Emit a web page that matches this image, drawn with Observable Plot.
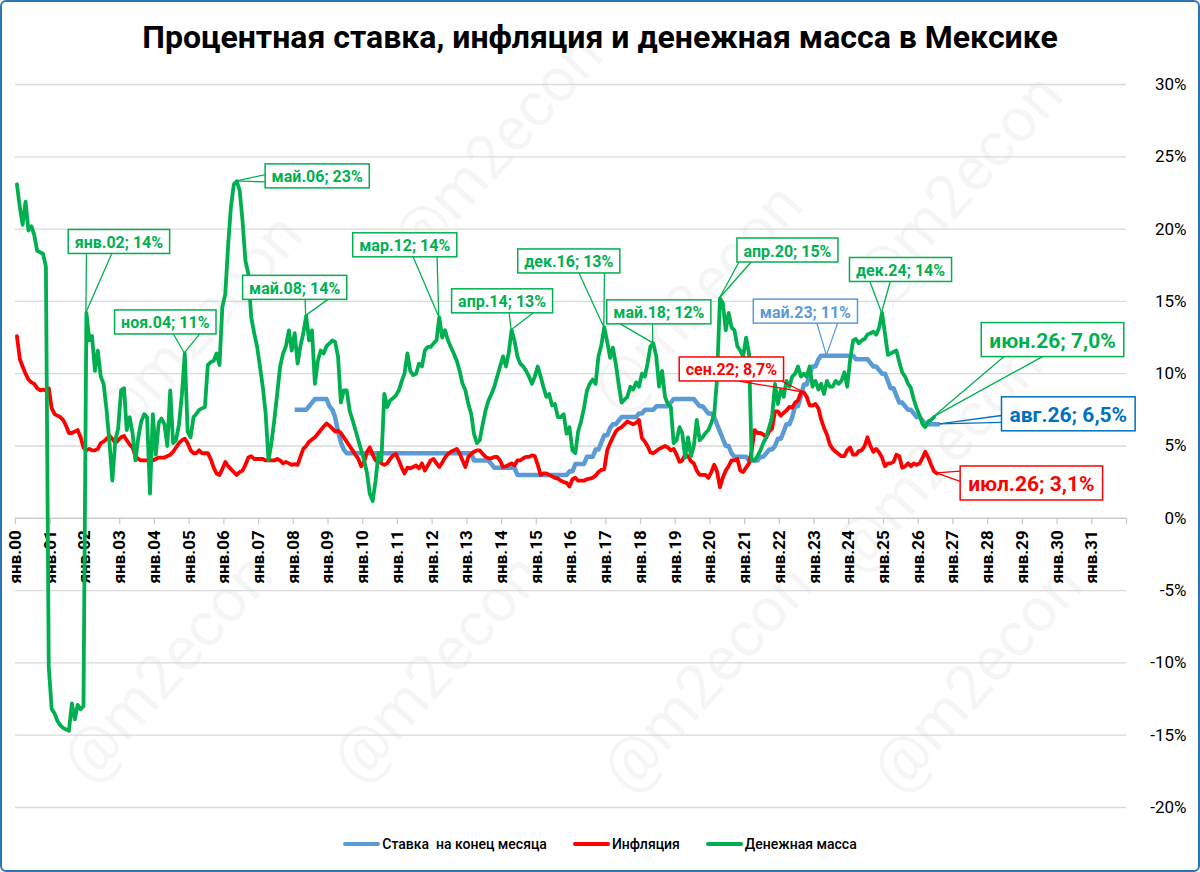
<!DOCTYPE html>
<html>
<head>
<meta charset="utf-8">
<script src="https://cdn.jsdelivr.net/npm/d3@7"></script>
<script src="https://cdn.jsdelivr.net/npm/@observablehq/plot@0.6"></script>
<style>
  html, body { margin: 0; padding: 0; background: #fff; }
  #frame { position: relative; width: 1200px; height: 872px; overflow: hidden; background: #fff; font-family: Roboto, "Noto Sans", sans-serif; }
  #chart { position: absolute; left: 0; top: 0; }
  #title { position: absolute; left: 0; right: 0; top: 17px; text-align: center; font-weight: 700; font-size: 28px; color: #000; white-space: nowrap; line-height: 40px; }
  #title span { display: inline-block; }
  #legend { position: absolute; left: 0; right: 0; top: 836px; display: flex; justify-content: center; align-items: center; font-size: 14px; font-weight: 500; color: #000; padding-left: 0px; }
  .item { display: flex; align-items: center; margin: 0 13px; }
  .sw { width: 37px; height: 4px; border-radius: 2px; margin-right: 2px; }
  #border { position: absolute; inset: 0; border: 2px solid #2E75B6; border-radius: 6px; box-sizing: border-box; pointer-events: none; }
</style>
</head>
<body>
<div id="frame">
  <div id="chart"></div>
  <div id="title"><span id="titleText">Процентная ставка, инфляция и денежная масса в Мексике</span></div>
  <div id="legend"></div>
  <div id="border"></div>
</div>
<script>
// ---------------- DATA (monthly, % y/y) ----------------
// Денежная масса: Jan 2000 – Jun 2026
const moneyStart = [2000, 0];
const moneySupply = [
  23.1, 21.5, 20.3, 21.9, 19.9, 20.2, 19.6, 18.5, 18.4, 18.3, 17.4, -10.3,
  -13.2, -13.5, -14.0, -14.3, -14.5, -14.6, -14.7, -12.8, -13.9, -12.9, -13.2, -13.0,
  14.2, 12.3, 12.6, 10.2, 11.6, 9.8, 9.3, 7.5, 5.2, 2.6, 5.4, 6.2,
  8.85, 9.0, 6.1, 7.0, 5.9, 4.0, 5.6, 6.7, 7.2, 7.0, 1.7, 7.2,
  4.4, 6.6, 6.9, 6.5, 5.0, 8.85, 5.2, 5.4, 6.5, 8.5, 11.4, 6.0,
  5.6, 7.0, 7.2, 7.5, 7.6, 7.7, 10.6, 10.8, 10.9, 11.4, 10.6, 14.6,
  15.5, 19.0, 21.5, 23.1, 23.3, 22.7, 20.6, 17.8, 16.9, 13.9, 12.8, 11.9,
  10.5, 9.0, 7.3, 4.0, 5.2, 6.8, 8.6, 10.5, 11.4, 11.9, 13.0, 11.6,
  12.8, 10.7, 11.9, 12.8, 14.0, 12.3, 13.0, 9.3, 10.9, 11.6, 11.4, 11.9,
  12.1, 12.3, 12.2, 11.2, 8.0, 8.85, 8.85, 7.45, 6.8, 6.1, 5.4, 4.7,
  4.0, 3.1, 1.7, 1.2, 2.6, 4.5, 4.0, 8.6, 7.7, 8.15, 8.3, 8.5,
  8.85, 9.5, 10.0, 11.4, 10.2, 9.9, 10.0, 10.7, 10.5, 11.6, 11.85, 11.85,
  12.1, 12.3, 13.9, 12.5, 13.0, 12.3, 11.85, 11.4, 10.9, 10.2, 9.3, 8.85,
  7.9, 7.2, 5.85, 5.2, 5.4, 6.5, 7.45, 8.15, 8.6, 9.1, 9.8, 10.5,
  11.2, 10.5, 11.4, 13.0, 12.3, 11.2, 10.7, 10.5, 10.2, 9.8, 9.3, 9.8,
  10.5, 9.8, 9.1, 8.4, 8.6, 7.8, 7.9, 7.0, 7.0, 7.2, 5.85, 6.3,
  4.7, 4.5, 6.0, 6.7, 7.6, 8.8, 9.3, 9.6, 9.3, 11.2, 12.0, 13.2,
  12.2, 11.1, 11.8, 10.7, 9.3, 8.0, 8.2, 8.4, 9.1, 8.9, 9.4, 9.1,
  10.0, 9.8, 10.7, 11.9, 12.1, 11.2, 9.1, 10.2, 8.4, 7.9, 7.7, 5.2,
  5.4, 6.3, 5.9, 4.2, 5.6, 4.3, 5.0, 6.8, 5.4, 5.6, 5.9, 6.1,
  6.6, 7.2, 9.6, 15.2, 14.9, 13.0, 14.2, 13.2, 13.0, 11.9, 11.6, 11.2,
  12.5, 11.4, 4.0, 4.0, 4.3, 4.7, 5.2, 5.6, 6.3, 7.0, 9.3, 7.9,
  8.9, 8.4, 9.5, 9.1, 9.8, 10.0, 10.5, 9.8, 10.0, 9.8, 10.5, 9.1,
  9.5, 8.9, 9.3, 8.6, 9.5, 9.1, 9.1, 9.5, 9.3, 9.5, 10.1, 9.1,
  11.0, 12.3, 12.4, 12.1, 12.3, 12.4, 12.7, 12.8, 12.9, 12.7, 13.2, 14.2,
  12.8, 11.3, 11.4, 11.5, 11.6, 10.8, 10.1, 9.8, 9.3, 9.0, 8.2, 7.6,
  7.1, 6.5, 6.3, 6.7, 6.8, 7.0
];

// Инфляция: Jan 2000 – Jul 2026
const inflationStart = [2000, 0];
const inflation = [
  12.6, 11.0, 10.5, 10.0, 9.6, 9.4, 9.3, 9.0, 8.85, 8.9, 8.85, 9.0,
  7.6, 7.2, 7.1, 7.0, 6.8, 6.4, 5.9, 5.9, 6.0, 6.1, 5.6, 4.9,
  4.7, 4.8, 4.7, 4.7, 4.8, 5.2, 5.3, 5.5, 5.7, 5.5, 5.2, 5.4,
  5.6, 5.7, 5.4, 5.1, 4.9, 4.3, 4.1, 4.0, 4.0, 4.0, 4.0, 4.0,
  4.1, 4.2, 4.2, 4.2, 4.3, 4.4, 4.6, 4.9, 5.2, 5.4, 5.5, 5.2,
  4.7, 4.5, 4.5, 4.7, 4.5, 4.5, 4.5, 4.1, 3.5, 3.1, 3.0, 3.4,
  3.9, 3.6, 3.4, 3.2, 3.0, 3.2, 3.3, 3.7, 4.2, 4.3, 4.1, 4.1,
  4.1, 4.1, 4.0, 4.0, 4.0, 4.0, 4.1, 4.0, 3.8, 3.9, 3.8, 3.7,
  3.75, 3.7, 4.25, 4.8, 5.0, 5.3, 5.45, 5.6, 5.85, 6.1, 6.35, 6.55,
  6.4, 6.2, 6.0, 6.05, 5.9, 5.6, 5.3, 5.0, 4.7, 4.4, 4.1, 3.6,
  3.9, 4.6, 4.9, 4.4, 4.0, 4.2, 3.8, 3.7, 3.8, 4.1, 4.35, 4.45,
  4.0, 3.5, 3.1, 3.5, 3.45, 3.55, 3.65, 3.45, 3.8, 3.3, 3.65, 4.0,
  4.1, 3.8, 3.55, 3.85, 4.2, 4.45, 4.6, 4.7, 4.8, 4.5, 4.0, 3.55,
  4.25, 4.45, 4.6, 4.7, 4.7, 4.45, 4.25, 4.15, 4.15, 4.25, 4.25, 4.0,
  3.55, 3.6, 3.7, 3.8, 3.65, 4.0, 4.0, 4.15, 4.25, 4.25, 4.35, 4.3,
  3.7, 3.0, 3.1, 3.1, 3.0, 2.9, 2.8, 2.75, 2.6, 2.5, 2.45, 2.2,
  2.7, 2.8, 2.6, 2.6, 2.6, 2.7, 2.75, 2.8, 2.95, 3.2, 3.35, 3.4,
  4.7, 5.2, 5.6, 6.0, 6.2, 6.3, 6.5, 6.7, 6.6, 6.5, 6.6, 6.8,
  5.55, 5.3, 5.0, 4.55, 4.5, 4.65, 4.8, 4.9, 5.0, 4.9, 4.7, 4.8,
  4.4, 3.9, 4.0, 4.4, 4.3, 3.95, 3.8, 3.3, 3.0, 3.0, 3.0, 2.8,
  3.2, 3.7, 3.25, 2.15, 2.8, 3.3, 3.6, 4.0, 4.0, 4.1, 3.3, 3.2,
  3.5, 3.8, 4.7, 6.1, 5.9, 5.9, 5.8, 5.6, 6.0, 6.2, 7.4, 7.4,
  7.1, 7.3, 7.45, 7.7, 7.65, 8.0, 8.15, 8.7, 8.7, 8.4, 7.8, 7.8,
  7.9, 7.6, 6.85, 6.25, 5.8, 5.1, 4.8, 4.6, 4.45, 4.3, 4.3, 4.7,
  4.9, 4.4, 4.4, 4.65, 4.7, 5.0, 5.6, 5.0, 4.6, 4.8, 4.55, 4.2,
  3.6, 3.8, 3.8, 3.9, 4.4, 4.3, 3.5, 3.6, 3.8, 3.6, 3.8, 3.7,
  3.8, 4.2, 4.6, 4.2, 3.7, 3.25, 3.1
];

// Ставка на конец месяца: Jan 2008 – Aug 2026
const rateStart = [2008, 0];
const policyRate = [
  7.5, 7.5, 7.5, 7.5, 7.5, 7.75, 8.0, 8.25, 8.25, 8.25, 8.25, 8.25,
  7.75, 7.5, 7.0, 6.0, 5.25, 4.75, 4.5, 4.5, 4.5, 4.5, 4.5, 4.5,
  4.5, 4.5, 4.5, 4.5, 4.5, 4.5, 4.5, 4.5, 4.5, 4.5, 4.5, 4.5,
  4.5, 4.5, 4.5, 4.5, 4.5, 4.5, 4.5, 4.5, 4.5, 4.5, 4.5, 4.5,
  4.5, 4.5, 4.5, 4.5, 4.5, 4.5, 4.5, 4.5, 4.5, 4.5, 4.5, 4.5,
  4.5, 4.5, 4.0, 4.0, 4.0, 4.0, 4.0, 4.0, 3.75, 3.5, 3.5, 3.5,
  3.5, 3.5, 3.5, 3.5, 3.5, 3.0, 3.0, 3.0, 3.0, 3.0, 3.0, 3.0,
  3.0, 3.0, 3.0, 3.0, 3.0, 3.0, 3.0, 3.0, 3.0, 3.0, 3.0, 3.25,
  3.25, 3.75, 3.75, 3.75, 3.75, 4.25, 4.25, 4.25, 4.75, 4.75, 5.25, 5.75,
  5.75, 6.25, 6.5, 6.5, 6.75, 7.0, 7.0, 7.0, 7.0, 7.0, 7.0, 7.25,
  7.25, 7.5, 7.5, 7.5, 7.5, 7.75, 7.75, 7.75, 7.75, 7.75, 8.0, 8.25,
  8.25, 8.25, 8.25, 8.25, 8.25, 8.25, 8.25, 8.0, 7.75, 7.75, 7.5, 7.25,
  7.25, 7.0, 6.5, 6.0, 5.5, 5.0, 5.0, 4.5, 4.25, 4.25, 4.25, 4.25,
  4.25, 4.0, 4.0, 4.0, 4.0, 4.25, 4.25, 4.5, 4.75, 4.75, 5.0, 5.5,
  5.5, 6.0, 6.5, 6.5, 7.0, 7.75, 7.75, 8.5, 9.25, 9.25, 10.0, 10.5,
  10.5, 11.0, 11.25, 11.25, 11.25, 11.25, 11.25, 11.25, 11.25, 11.25, 11.25, 11.25,
  11.25, 11.25, 11.0, 11.0, 11.0, 11.0, 11.0, 10.75, 10.5, 10.5, 10.25, 10.0,
  10.0, 9.5, 9.0, 9.0, 8.5, 8.0, 8.0, 7.75, 7.5, 7.5, 7.25, 7.0,
  7.0, 6.75, 6.5, 6.5, 6.5, 6.5, 6.5, 6.5
];

const yTicks = [-20, -15, -10, -5, 0, 5, 10, 15, 20, 25, 30];
const axisYears = [2000, 2001, 2002, 2003, 2004, 2005, 2006, 2007, 2008, 2009, 2010, 2011, 2012, 2013, 2014, 2015,
                   2016, 2017, 2018, 2019, 2020, 2021, 2022, 2023, 2024, 2025, 2026, 2027, 2028, 2029, 2030, 2031];
const axisEndYear = 2032;

const seriesNames = { rate: "Ставка  на конец месяца", infl: "Инфляция", money: "Денежная масса" };
const seriesColors = { rate: "#5B9BD5", infl: "#FF0000", money: "#00B050" };

// callouts: series, year, month(0-based), label, box-centre offset (px), wedge spec
const callouts = [
  { s: "money", y: 2002, m: 0,  label: "янв.02; 14%",  dx: 33,  dy: -71,  side: "bottom", f: [0.18, 0.43], size: 16, color: "#00B050" },
  { s: "money", y: 2004, m: 10, label: "ноя.04; 11%",  dx: -19, dy: -31,  side: "bottom", f: [0.58, 0.84], size: 16, color: "#00B050" },
  { s: "money", y: 2006, m: 4,  label: "май.06; 23%",  dx: 81,  dy: -5,   side: "left",   f: [0.45, 0.75], size: 16, color: "#00B050" },
  { s: "money", y: 2008, m: 4,  label: "май.08; 14%",  dx: -11, dy: -28,  side: "bottom", f: [0.60, 0.82], size: 16, color: "#00B050" },
  { s: "money", y: 2012, m: 2,  label: "мар.12; 14%",  dx: -34, dy: -72,  side: "bottom", f: [0.58, 0.81], size: 16, color: "#00B050" },
  { s: "money", y: 2014, m: 3,  label: "апр.14; 13%",  dx: -9,  dy: -29,  side: "bottom", f: [0.57, 0.81], size: 16, color: "#00B050" },
  { s: "money", y: 2016, m: 11, label: "дек.16; 13%",  dx: -35, dy: -66,  side: "bottom", f: [0.60, 0.85], size: 16, color: "#00B050" },
  { s: "money", y: 2018, m: 4,  label: "май.18; 12%",  dx: 6,   dy: -31,  side: "bottom", f: [0.13, 0.44], size: 16, color: "#00B050" },
  { s: "money", y: 2020, m: 3,  label: "апр.20; 15%",  dx: 68,  dy: -48,  side: "bottom", f: [0.02, 0.14], size: 16, color: "#00B050" },
  { s: "rate",  y: 2023, m: 4,  label: "май.23; 11%",  dx: -21, dy: -44,  side: "bottom", f: [0.61, 0.81], size: 16, color: "#5B9BD5" },
  { s: "infl",  y: 2022, m: 8,  label: "сен.22; 8,7%", dx: -72, dy: -23,  side: "bottom", f: [0.57, 0.98], size: 16, color: "#FF0000" },
  { s: "money", y: 2024, m: 11, label: "дек.24; 14%",  dx: 19,  dy: -43,  side: "bottom", f: [0.20, 0.40], size: 16, color: "#00B050" },
  { s: "money", y: 2026, m: 5,  label: "июн.26; 7,0%", dx: 119, dy: -77,  side: "bottom", f: [0.16, 0.43], size: 21, color: "#00B050" },
  { s: "rate",  y: 2026, m: 7,  label: "авг.26; 6,5%", dx: 129, dy: -10,  side: "left",   f: [0.55, 0.75], size: 21, color: "#0070C0" },
  { s: "infl",  y: 2026, m: 6,  label: "июл.26; 3,1%", dx: 95,  dy: 10,   side: "left",   f: [0.15, 0.45], size: 21, color: "#FF0000" }
];

// ---------------- BUILD ----------------
const monthDate = (y, m) => new Date(Date.UTC(y, m, 16)); // points sit mid-month (category centre)
function toRows(start, values, key) {
  return values.map((v, i) => {
    const y = start[0] + Math.floor((start[1] + i) / 12), m = (start[1] + i) % 12;
    return { key, year: y, month: m, date: monthDate(y, m), value: v };
  });
}
const rows = {
  money: toRows(moneyStart, moneySupply, "money"),
  infl: toRows(inflationStart, inflation, "infl"),
  rate: toRows(rateStart, policyRate, "rate")
};

const tickDates = axisYears.concat([axisEndYear]).map(y => new Date(Date.UTC(y, 0, 1)));
const labelDates = axisYears.map(y => new Date(Date.UTC(y, 0, 1)));

const plot = Plot.plot({
  width: 1200,
  height: 872,
  marginLeft: 15,
  marginRight: 74,
  marginTop: 84,
  marginBottom: 65,
  style: { background: "transparent", fontFamily: "Roboto, 'Noto Sans', sans-serif", overflow: "visible" },
  x: { type: "utc", domain: [new Date(Date.UTC(2000, 0, 1)), new Date(Date.UTC(axisEndYear, 0, 1))], axis: null },
  y: { domain: [-20, 30], axis: null },
  marks: [
    Plot.ruleY(yTicks, { stroke: "#D9D9D9", strokeWidth: 1.3 }),
    Plot.ruleY([0], { stroke: "#C8C8C8", strokeWidth: 1.3 }),
    Plot.ruleX(tickDates, { y1: 0, y2: -0.45, stroke: "#C8C8C8", strokeWidth: 1.2 }),
    Plot.text(yTicks, { y: d => d, text: d => d + "%", frameAnchor: "right", dx: 60, textAnchor: "end", fontSize: 17, fill: "#000" }),
    Plot.text(labelDates, {
      x: d => d, y: 0, text: d => "янв." + String(d.getUTCFullYear() % 100).padStart(2, "0"),
      rotate: -90, textAnchor: "end", dy: 12, fontSize: 17, fontWeight: "bold", fill: "#000"
    }),
    Plot.line(rows.rate, { x: "date", y: "value", stroke: seriesColors.rate, strokeWidth: 4.5, strokeLinejoin: "round", strokeLinecap: "butt" }),
    Plot.line(rows.infl, { x: "date", y: "value", stroke: seriesColors.infl, strokeWidth: 3.8, strokeLinejoin: "round" }),
    Plot.line(rows.money, { x: "date", y: "value", stroke: seriesColors.money, strokeWidth: 3.8, strokeLinejoin: "round" })
  ]
});
document.getElementById("chart").appendChild(plot);

// faint watermark (behind everything, kept inside the frame)
const wm = d3.select(plot).insert("g", ":first-child").attr("fill", "#000").attr("fill-opacity", 0.04)
  .attr("font-family", "Roboto, sans-serif").attr("font-size", 62);
const wmSpots = [[500, 150], [960, 190], [200, 330], [700, 300], [940, 460], [170, 670], [440, 670], [710, 680], [980, 680]];
wmSpots.forEach(([cx, cy]) => {
  wm.append("text").attr("transform", `translate(${cx},${cy}) rotate(-48)`).attr("text-anchor", "middle")
    .attr("dominant-baseline", "middle").text("@m2econ");
});

// callouts placed from data via the plot's own scales
const xs = plot.scale("x"), ys = plot.scale("y");
const layer = d3.select(plot).append("g");
callouts.forEach(c => {
  const d = rows[c.s].find(r => r.year === c.y && r.month === c.m);
  const px = xs.apply(d.date), py = ys.apply(d.value);
  const g = layer.append("g");
  const wedge = g.append("g");
  const rect = g.append("rect");
  const t = g.append("text").text(c.label)
    .attr("font-size", c.size).attr("font-weight", "bold").attr("fill", c.color)
    .attr("text-anchor", "middle").attr("dominant-baseline", "central");
  const tw = t.node().getComputedTextLength();
  const w = tw + (c.size > 18 ? 16 : 13), h = c.size > 18 ? 34 : 24;
  const cx = px + c.dx, cy = py + c.dy;
  const left = cx - w / 2, top = cy - h / 2;
  t.attr("x", cx).attr("y", cy + 1);
  rect.attr("x", left).attr("y", top).attr("width", w).attr("height", h)
    .attr("fill", "#fff").attr("stroke", c.color).attr("stroke-width", 1.5);
  const base = c.f.map(f => c.side === "bottom" ? [left + f * w, top + h] : [left, top + f * h]);
  base.forEach(([bx, by]) => {
    wedge.append("line").attr("x1", bx).attr("y1", by).attr("x2", px).attr("y2", py)
      .attr("stroke", c.color).attr("stroke-width", 1.3);
  });
});

// title fit
(function fitTitle() {
  const el = document.getElementById("titleText");
  const target = 916;
  const w = el.getBoundingClientRect().width;
  if (w > 0) el.parentElement.style.fontSize = (28 * target / w).toFixed(2) + "px";
})();

// legend
const legend = document.getElementById("legend");
["rate", "infl", "money"].forEach(k => {
  const item = document.createElement("div");
  item.className = "item";
  const sw = document.createElement("div");
  sw.className = "sw";
  sw.style.background = seriesColors[k];
  const tx = document.createElement("span");
  tx.textContent = seriesNames[k];
  tx.style.whiteSpace = "pre";
  item.appendChild(sw); item.appendChild(tx);
  legend.appendChild(item);
});
</script>
</body>
</html>
